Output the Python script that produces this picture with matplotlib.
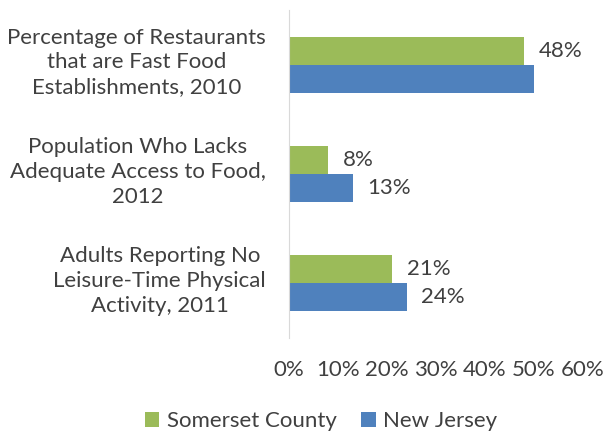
import matplotlib.pyplot as plt
import numpy as np

categories = [
    "Percentage of Restaurants\nthat are Fast Food\nEstablishments, 2010",
    "Population Who Lacks\nAdequate Access to Food,\n2012",
    "Adults Reporting No\nLeisure-Time Physical\nActivity, 2011",
]
somerset = [48, 8, 21]
new_jersey = [50, 13, 24]
somerset_labels = ["48%", "8%", "21%"]
nj_labels = ["", "13%", "24%"]
ticks = [0, 10, 20, 30, 40, 50, 60]

plt.rcParams['font.family'] = ['Lato', 'DejaVu Sans']
text_color = '#404040'
green = '#9BBB59'
blue = '#4F81BD'
fs = 16

fig = plt.figure(figsize=(6.06, 4.33), dpi=100)
ax = fig.add_axes([289 / 606, 1 - 338 / 433, (583 - 289) / 606, 328 / 433])

y = np.arange(len(categories))
h = 0.257
ax.barh(y - h / 2, somerset, height=h, color=green, label='Somerset County')
ax.barh(y + h / 2, new_jersey, height=h, color=blue, label='New Jersey')

for i in range(len(categories)):
    if somerset_labels[i]:
        ax.text(somerset[i] + 3, y[i] - h / 2, somerset_labels[i], va='center', ha='left',
                fontsize=fs, color=text_color)
    if nj_labels[i]:
        ax.text(new_jersey[i] + 3, y[i] + h / 2, nj_labels[i], va='center', ha='left',
                fontsize=fs, color=text_color)
    # category label, centred lines, right edge ~23px left of the axis
    ax.text(-23 / 294, y[i] - 0.02, categories[i], transform=ax.get_yaxis_transform(),
            ha='right', va='center', multialignment='center', linespacing=1.3,
            fontsize=fs, color=text_color)

ax.set_xlim(0, 60)
ax.set_ylim(2.5, -0.5)
ax.set_xticks(ticks)
ax.set_xticklabels([f"{t}%" for t in ticks], fontsize=fs, color=text_color)
ax.set_yticks([])
ax.tick_params(axis='both', length=0)
ax.tick_params(axis='x', pad=16)

for s in ['top', 'right', 'bottom']:
    ax.spines[s].set_visible(False)
ax.spines['left'].set_color('#D9D9D9')

fig.legend(loc='center', bbox_to_anchor=(321 / 606, 1 - 421 / 433), ncol=2, frameon=False,
           fontsize=fs, labelcolor=text_color, handlelength=0.65, handleheight=0.65,
           columnspacing=1.1, handletextpad=0.35)

fig.savefig('out.png', dpi=100)
